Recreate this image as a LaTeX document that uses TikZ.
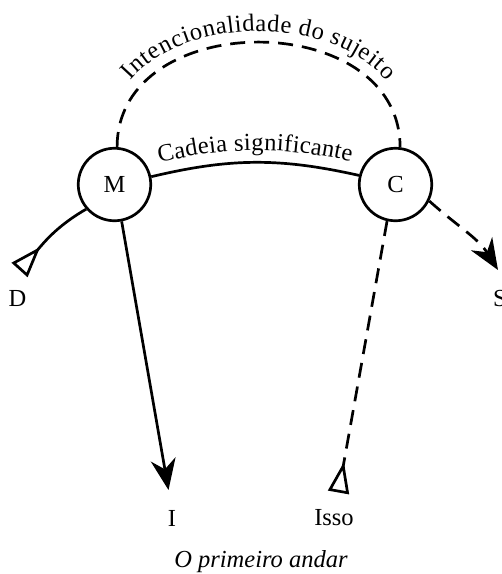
\documentclass[tikz,border=0pt]{standalone}
\usepackage{fontspec}
\setmainfont{Liberation Serif}
\usetikzlibrary{arrows.meta,decorations.text}
\begin{document}
\fontsize{24.5}{28}\selectfont
\begin{tikzpicture}[x=1pt,y=-1pt, line width=2.7pt,
  every node/.style={font=\fontsize{24.5}{28}\selectfont},
  circ/.style={draw, circle, minimum size=72.5pt, inner sep=0pt},
  lbl/.style={inner sep=0pt},
  dsh/.style={dash pattern=on 15pt off 9pt},
  fulltip/.style={-{Stealth[length=31pt,width=25pt,inset=10pt]}},
  opentip/.style={-{Triangle[open,reversed,length=31pt,width=21pt]}},
  alongtext/.style={postaction={decorate, decoration={text along path, text align=center, raise=#1}}}
]
\useasboundingbox (0,0) rectangle (502,574);

\node[circ] (M) at (114.5,184.5) {M};
\node[circ] (C) at (395.5,184.5) {C};

\coordinate (Dend) at (19.5,270);
\coordinate (Iend) at (168.5,490);
\coordinate (Send) at (498,270);
\coordinate (Issoend) at (338.5,492.5);

\node[lbl] (Dl) at (17.5,298) {D};
\node[lbl] (Sl) at (500,299) {S};
\node[lbl] (Il) at (172,518) {I};
\node[lbl] (Issol) at (334,518) {Isso};
\node[lbl, anchor=base] (cap) at (261,567) {\itshape O primeiro andar};

% Cadeia significante
\draw[alongtext=12pt, decoration={text={Cadeia significante}}]
  (M.12) to[bend left=13] (C.166);

% Intencionalidade do sujeito
\draw[dsh] (M.86) .. controls +(0,-140) and +(0,-140) .. (C.83);
\path[decorate, decoration={text along path, text align=center, raise=11pt,
  text={Intencionalidade do sujeito}}]
  (M.86) .. controls +(0,-140) and +(0,-140) .. (C.83);

% D
\draw[opentip] (M.221) to[out=210, in=48] (Dend);
% I
\draw[fulltip] (M.-79) -- (Iend);
% Isso
\draw[dsh, opentip] (C.257) -- (Issoend);
% S
\draw[dsh, fulltip] (C.-26) to[out=-42, in=122] (Send);
\end{tikzpicture}
\end{document}
